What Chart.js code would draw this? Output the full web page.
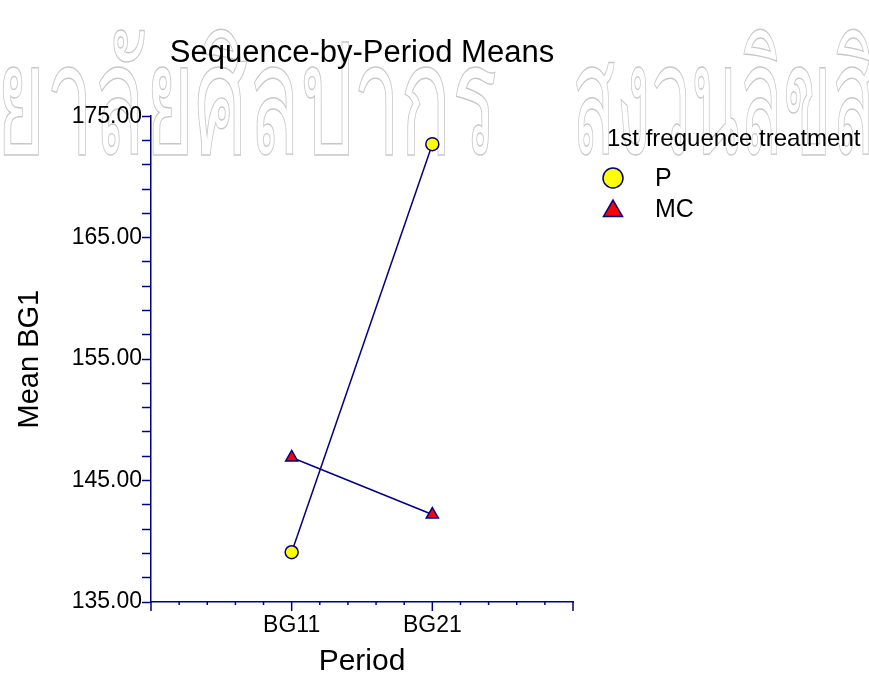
<!DOCTYPE html>
<html>
<head>
<meta charset="utf-8">
<script src="https://cdn.jsdelivr.net/npm/chart.js@4.4.0/dist/chart.umd.min.js"></script>
<style>
  html, body { margin: 0; padding: 0; background: #fff; }
  #wrap { width: 869px; height: 680px; }
</style>
</head>
<body>
<div id="wrap"><canvas id="chart-area" width="869" height="680"></canvas></div>
<script>
// data
var periods = ['BG11', 'BG21'];
var meansP = [139.1, 172.7];
var meansMC = [146.9, 142.2];
var seqNames = ['P', 'MC'];
var yMin = 135, yMax = 175;

var navy = '#000080';
var fontFam = '"Liberation Sans", Arial, sans-serif';

function toPoints(values) {
    return values.map(function (v, i) { return { x: i + 1, y: v }; });
}

// draws the things chart.js won't place where we want them:
// watermark, custom x tick marks, legend on the right
var extrasPlugin = {
    id: 'extras',
    beforeDraw: function (chart) {
        var ctx = chart.ctx;
        ctx.save();
        ctx.font = '155px "Noto Sans", "DejaVu Sans", sans-serif';
        ctx.strokeStyle = '#c8c8c8';
        ctx.lineWidth = 1.4;
        ctx.textBaseline = 'alphabetic';
        //watermark is squeezed horizontally, two chunks so the gap matches
        ctx.setTransform(0.545, 0, 0, 1, -4, 0);
        ctx.strokeText('ยาลัยศิลปากร', 0, 154);
        ctx.setTransform(0.46, 0, 0, 1, 572, 0);
        ctx.strokeText('สงวนลิขสิทธิ์', 0, 154);
        ctx.restore();
    },
    afterDraw: function (chart) {
        var ctx = chart.ctx;
        var xs = chart.scales.x;
        var bottom = chart.chartArea.bottom;

        ctx.save();
        ctx.strokeStyle = navy;
        ctx.lineWidth = 1.5;
        xs.ticks.forEach(function (t) {
            var px = xs.getPixelForValue(t.value);
            var major = Math.abs(t.value - Math.round(t.value)) < 1e-6;
            ctx.beginPath();
            ctx.moveTo(px, bottom);
            ctx.lineTo(px, bottom + (major ? 9 : 3));
            ctx.stroke();
        });
        ctx.restore();

        // legend
        ctx.save();
        ctx.fillStyle = '#000';
        ctx.textBaseline = 'middle';
        ctx.textAlign = 'left';
        ctx.font = '24px ' + fontFam;
        ctx.fillText('1st frequence treatment', 607, 139);
        chart.data.datasets.forEach(function (ds, i) {
            var cy = 178 + i * 31;
            ctx.fillStyle = ds.pointBackgroundColor;
            ctx.strokeStyle = ds.pointBorderColor;
            ctx.lineWidth = 1.5;
            Chart.helpers.drawPoint(ctx, {
                pointStyle: ds.pointStyle,
                radius: ds.pointStyle === 'circle' ? 10 : 11,
                borderWidth: 1.5
            }, 613, ds.pointStyle === 'circle' ? cy : cy + 2);
            ctx.fillStyle = '#000';
            ctx.font = '25px ' + fontFam;
            ctx.fillText(ds.label, 655, cy + 1);
        });
        ctx.restore();
    }
};

var chart = new Chart(document.getElementById('chart-area').getContext('2d'), {
    type: 'line',
    plugins: [extrasPlugin],
    data: {
        datasets: [
            {
                label: seqNames[0],
                data: toPoints(meansP),
                borderColor: navy,
                borderWidth: 1.5,
                pointStyle: 'circle',
                pointRadius: 6.5,
                pointBackgroundColor: '#ffff00',
                pointBorderColor: navy,
                pointBorderWidth: 1.5
            },
            {
                label: seqNames[1],
                data: toPoints(meansMC),
                borderColor: navy,
                borderWidth: 1.5,
                pointStyle: 'triangle',
                pointRadius: 7,
                pointBackgroundColor: '#ff0000',
                pointBorderColor: navy,
                pointBorderWidth: 1.5
            }
        ]
    },
    options: {
        responsive: false,
        animation: false,
        layout: { padding: { left: 0, right: 296, top: 0, bottom: 0 } },
        plugins: {
            legend: { display: false },
            tooltip: { enabled: false },
            title: {
                display: true,
                fullSize: false,
                text: 'Sequence-by-Period Means',
                color: '#000',
                font: { family: fontFam, size: 31, weight: 'normal' },
                padding: { top: 35, bottom: 44 }
            }
        },
        scales: {
            x: {
                type: 'linear',
                min: 0,
                max: 3,
                grid: { display: false, drawTicks: false },
                border: { display: true, color: navy, width: 1.5 },
                ticks: {
                    stepSize: 0.2,
                    autoSkip: false,
                    maxRotation: 0,
                    padding: 10,
                    color: '#000',
                    font: { family: fontFam, size: 23 },
                    callback: function (v) {
                        var i = Math.round(v);
                        if (Math.abs(v - i) > 1e-6) return '';
                        return periods[i - 1] || '';
                    }
                },
                title: {
                    display: true,
                    text: 'Period',
                    color: '#000',
                    font: { family: fontFam, size: 30 },
                    padding: { top: 0, bottom: 0 }
                },
                afterFit: function (scale) { scale.height = 78; }
            },
            y: {
                min: yMin,
                max: yMax,
                grid: { display: true, drawOnChartArea: false, drawTicks: true, tickLength: 9, tickColor: navy, tickWidth: 1.5 },
                border: { display: true, color: navy, width: 1.5 },
                ticks: {
                    stepSize: 2,
                    autoSkip: false,
                    padding: 0,
                    color: '#000',
                    font: { family: fontFam, size: 23 },
                    //labels every 10 starting from the bottom value
                    callback: function (v) { return (v - yMin) % 10 === 0 ? v.toFixed(2) : ''; }
                },
                title: {
                    display: true,
                    text: 'Mean BG1',
                    color: '#000',
                    font: { family: fontFam, size: 29 },
                    padding: { top: 13, bottom: 0 }
                },
                afterFit: function (scale) { scale.width = 151; }
            }
        }
    }
});
</script>
</body>
</html>
